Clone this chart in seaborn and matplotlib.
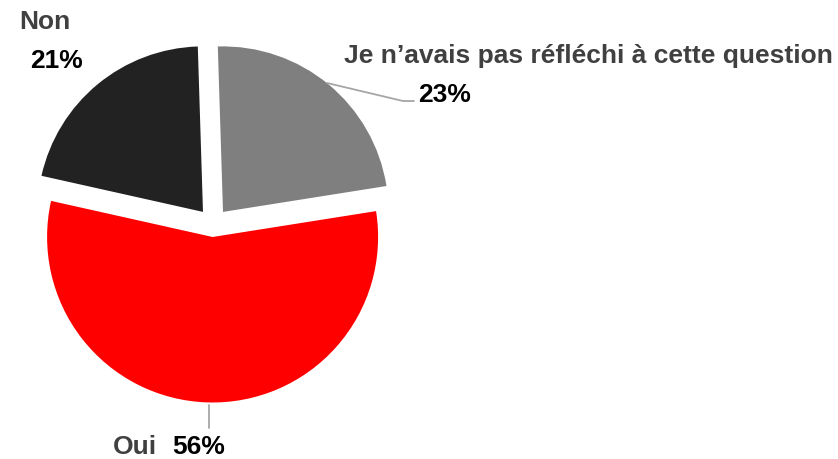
import matplotlib
matplotlib.use("Agg")
import matplotlib.pyplot as plt
import seaborn as sns

categories = ["Je n\u2019avais pas réfléchi à cette question", "Oui", "Non"]
values = [23, 56, 21]
pct_labels = ["23%", "56%", "21%"]
colors = ["#7f7f7f", "#ff0000", "#222222"]

sns.set_theme(style="white")
plt.rcParams['font.family'] = ['Liberation Sans', 'DejaVu Sans']

W, H = 838, 459
fig = plt.figure(figsize=(W / 100, H / 100), dpi=100)
ax = fig.add_axes([0, 0, 1, 1])

def Y(y):
    return H - y

cx, cy, r = 213.0, Y(224), 165.5
ax.pie(values, colors=colors, startangle=91.8, counterclock=False,
       explode=[15.7, 13, 15.7], center=(cx, cy), radius=r,
       wedgeprops=dict(linewidth=0), frame=True)
ax.set_xlim(0, W)
ax.set_ylim(0, H)
ax.set_aspect("equal")
ax.axis("off")

name_c = "#404040"
fs = 19
# Gray slice label
ax.text(344, Y(63), categories[0], fontsize=fs, fontweight="bold", color=name_c,
        ha="left", va="baseline")
ax.text(418, Y(102), pct_labels[0], fontsize=fs, fontweight="bold", color="black",
        ha="left", va="baseline")
ax.plot([327, 403, 414], [Y(83), Y(101), Y(101)], color="#a6a6a6", lw=1.3)
# Oui
ax.text(113, Y(454), categories[1], fontsize=fs, fontweight="bold", color=name_c,
        ha="left", va="baseline")
ax.text(172, Y(454), pct_labels[1], fontsize=fs, fontweight="bold", color="black",
        ha="left", va="baseline")
ax.plot([209, 209], [Y(405), Y(428)], color="#a6a6a6", lw=1.3)
# Non
ax.text(19, Y(29), categories[2], fontsize=fs, fontweight="bold", color=name_c,
        ha="left", va="baseline")
ax.text(30, Y(68), pct_labels[2], fontsize=fs, fontweight="bold", color="black",
        ha="left", va="baseline")

fig.savefig("out.png", dpi=100)
